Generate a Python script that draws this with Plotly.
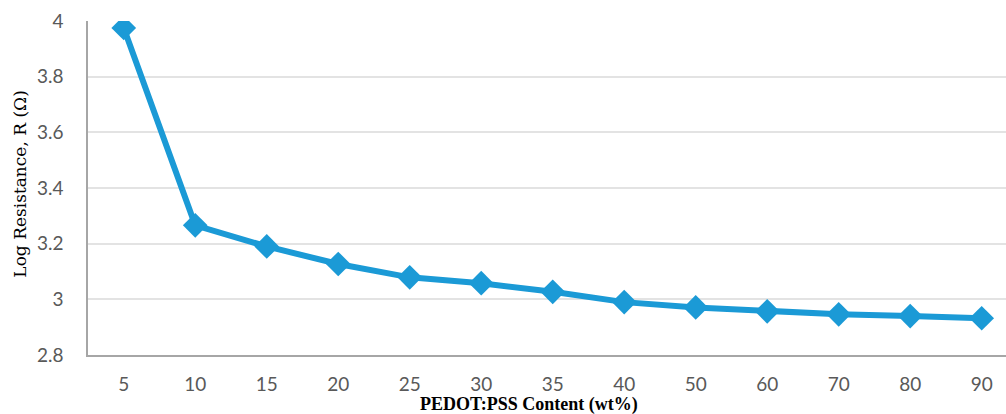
import plotly.graph_objects as go

categories = ["5", "10", "15", "20", "25", "30", "35", "40", "50", "60", "70", "80", "90"]
log_resistance = [3.975, 3.266, 3.19, 3.127, 3.079, 3.058, 3.027, 2.99, 2.971, 2.957, 2.946, 2.94, 2.932]
y_ticks = [2.8, 3.0, 3.2, 3.4, 3.6, 3.8, 4.0]
y_tick_labels = ["2.8", "3", "3.2", "3.4", "3.6", "3.8", "4"]

blue = "#1b9ad6"

fig = go.Figure()
fig.add_trace(go.Scatter(
    x=categories, y=log_resistance, mode="lines+markers",
    line=dict(color=blue, width=6),
    marker=dict(symbol="diamond", size=19, color=blue),
    showlegend=False,
))

fig.update_layout(
    width=1006, height=414,
    margin=dict(l=88, r=0, t=21, b=59),
    paper_bgcolor="white", plot_bgcolor="white",
    xaxis=dict(
        type="category", range=[-0.5, 12.34],
        showgrid=False, showline=True, linecolor="#a6a6a6", linewidth=1.5,
        ticks="", ticklabelstandoff=11,
        tickfont=dict(family="Lato, Open Sans, sans-serif", size=19, color="#595959"),
    ),
    yaxis=dict(
        range=[2.8, 4.0], tickvals=y_ticks, ticktext=y_tick_labels,
        showgrid=True, gridcolor="#e3e3e3", gridwidth=1.5,
        showline=True, linecolor="#a6a6a6", linewidth=1.5, zeroline=False,
        ticks="", ticklabelstandoff=19,
        tickfont=dict(family="Lato, Open Sans, sans-serif", size=19, color="#595959"),
    ),
    annotations=[
        dict(
            text="<b>PEDOT:PSS Content (wt%)</b>", xref="paper", yref="paper",
            x=0.48, y=0, yshift=-49, xanchor="center", yanchor="middle", showarrow=False,
            font=dict(family="Liberation Serif, serif", size=18, color="#000000"),
        ),
        dict(
            text="Log Resistance, R (Ω)", xref="paper", yref="paper",
            x=0, y=0.51, xshift=-68, xanchor="center", yanchor="middle", showarrow=False,
            textangle=-90,
            font=dict(family="DejaVu Serif, serif", size=17, color="#000000"),
        ),
    ],
)

fig.write_html("out.html", config={"displayModeBar": False},
               post_script="document.body.style.margin='0';")
